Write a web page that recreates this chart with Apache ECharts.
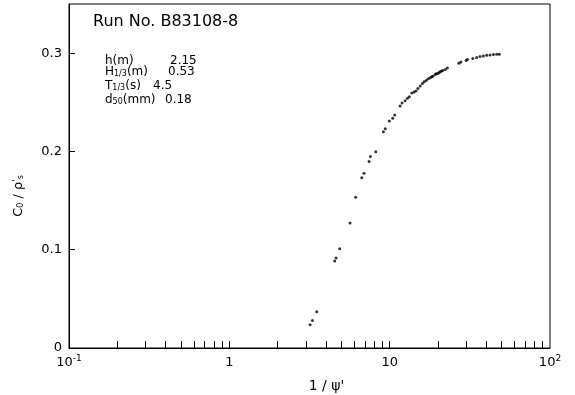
<!DOCTYPE html>
<html>
<head>
<meta charset="utf-8">
<script src="https://cdn.jsdelivr.net/npm/echarts@6/dist/echarts.min.js"></script>
<style>
html,body{margin:0;padding:0;background:#fff;}
#chart{width:575px;height:395px;}
</style>
</head>
<body>
<div id="chart"></div>
<script>
// ---- data ----
var xValues = [3.19, 3.30, 3.51, 4.54, 4.63, 4.88, 5.66, 6.14, 6.70, 6.92, 7.44, 7.58, 8.19,
  9.14, 9.40, 9.95, 10.45, 10.76, 11.61, 11.95, 12.47, 12.9, 13.27, 13.74, 14.2, 14.6, 15.0,
  15.5, 16.0, 16.4, 16.9, 17.4, 17.9, 18.3, 18.6, 19.2, 19.5, 19.9, 20.3, 20.6, 21.0, 21.4,
  22.2, 22.9, 27.0, 27.8, 30.0, 30.5, 33.0, 34.9, 36.6, 38.4, 40.3, 42.3, 44.4, 46.5, 48.3];
var yValues = [0.0236, 0.028, 0.0368, 0.0885, 0.0915, 0.101, 0.1273, 0.1533, 0.1733, 0.1777,
  0.1898, 0.1948, 0.1996, 0.2199, 0.2232, 0.231, 0.2337, 0.2371, 0.2462, 0.2492, 0.2516, 0.254,
  0.2556, 0.2594, 0.2604, 0.2614, 0.264, 0.2665, 0.269, 0.2708, 0.2722, 0.2739, 0.2749, 0.276,
  0.2766, 0.2783, 0.279, 0.2793, 0.280, 0.281, 0.2815, 0.2824, 0.2834, 0.285, 0.2898, 0.2911,
  0.2925, 0.2935, 0.2945, 0.2955, 0.2966, 0.2972, 0.2979, 0.2982, 0.2986, 0.2989, 0.2989];

var xTickValues = [0.2,0.3,0.4,0.5,0.6,0.7,0.8,0.9,1,2,3,4,5,6,7,8,9,10,20,30,40,50,60,70,80,90];
var xLabelValues = [0.1, 1, 10, 100];
var xLabelTexts = ['{n|10}{s|-1}', '{n|1}', '{n|10}', '{n|10}{s|2}'];
var yLabelValues = [0, 0.1, 0.2, 0.3];
var yTickValues = [0.1, 0.2, 0.3];

var runTitle = 'Run No. B83108-8';
var paramNames = ['{n|h(m)}', '{n|H}{s|1/3}{n|(m)}', '{n|T}{s|1/3}{n|(s)}', '{n|d}{s|50}{n|(mm)}'];
var paramValues = ['2.15', '0.53', '4.5', '0.18'];

var xAxisName = "1 / ψ'";
var yAxisName = "{n|C}{sub|0}{n| / ρ}{sup|'}{sub|s}";

// ---- chart ----
var FONT = 'DejaVu Sans';
var chart = echarts.init(document.getElementById('chart'), null, {renderer: 'canvas'});

var points = xValues.map(function (x, i) { return [x, yValues[i]]; });

var paramRich = {
  n: {fontFamily: FONT, fontSize: 12, color: '#000'},
  s: {fontFamily: FONT, fontSize: 8, color: '#000', verticalAlign: 'bottom', padding: [3, 0, 0, 0]}
};
var paramTops = [55, 66, 80, 94];
var valueLefts = [170, 168, 153, 165];
var graphics = [{
  type: 'text', left: 93, top: 14,
  style: {text: runTitle, font: '16px "' + FONT + '"', fill: '#000'}
}];
paramNames.forEach(function (t, i) {
  graphics.push({type: 'text', left: 105, top: paramTops[i],
    style: {text: t, rich: paramRich, fill: '#000'}});
  graphics.push({type: 'text', left: valueLefts[i], top: paramTops[i],
    style: {text: paramValues[i], font: '12px "' + FONT + '"', fill: '#000'}});
});

chart.setOption({
  animation: false,
  backgroundColor: '#fff',
  grid: {left: 69, right: 25, top: 4, bottom: 47, show: true, borderColor: '#000', borderWidth: 1,
    containLabel: false, outerBoundsMode: 'none'},
  xAxis: {
    type: 'log', logBase: 10, min: 0.1, max: 100,
    name: xAxisName, nameLocation: 'middle', nameGap: 31,
    nameTextStyle: {fontFamily: FONT, fontSize: 14, color: '#000', padding: [0, 0, 0, 34]},
    axisLine: {show: true, lineStyle: {color: '#000', width: 1}},
    axisTick: {show: true, inside: true, length: 7, customValues: xTickValues, lineStyle: {color: '#000'}},
    minorTick: {show: false},
    splitLine: {show: false},
    axisLabel: {
      customValues: xLabelValues, margin: 6,
      formatter: function (v) {
        var idx = xLabelValues.findIndex(function (c) { return Math.abs(Math.log10(c) - Math.log10(v)) < 1e-6; });
        return idx >= 0 ? xLabelTexts[idx] : '';
      },
      rich: {
        n: {fontFamily: FONT, fontSize: 13, color: '#000', lineHeight: 18},
        s: {fontFamily: FONT, fontSize: 9, color: '#000', verticalAlign: 'top', lineHeight: 10}
      }
    }
  },
  yAxis: {
    type: 'value', min: 0, max: 0.35,
    name: yAxisName, nameLocation: 'middle', nameGap: 44, nameRotate: 90,
    nameTextStyle: {
      padding: [0, 40, 0, 0],
      rich: {
        n: {fontFamily: FONT, fontSize: 13, color: '#000'},
        sub: {fontFamily: FONT, fontSize: 8, color: '#000', verticalAlign: 'bottom', padding: [4, 0, 0, 0]},
        sup: {fontFamily: FONT, fontSize: 9, color: '#000', verticalAlign: 'top'}
      }
    },
    axisLine: {show: true, lineStyle: {color: '#000', width: 1}},
    axisTick: {show: true, inside: true, length: 6, customValues: yTickValues, lineStyle: {color: '#000'}},
    splitLine: {show: false},
    axisLabel: {customValues: yLabelValues, margin: 7, fontFamily: FONT, fontSize: 13, color: '#000',
      formatter: function (v) { return v === 0 ? '0' : v.toFixed(1); }}
  },
  series: [{
    type: 'scatter',
    data: points,
    symbol: 'circle',
    symbolSize: 3,
    itemStyle: {color: '#000'}
  }],
  graphic: graphics
});
</script>
</body>
</html>
